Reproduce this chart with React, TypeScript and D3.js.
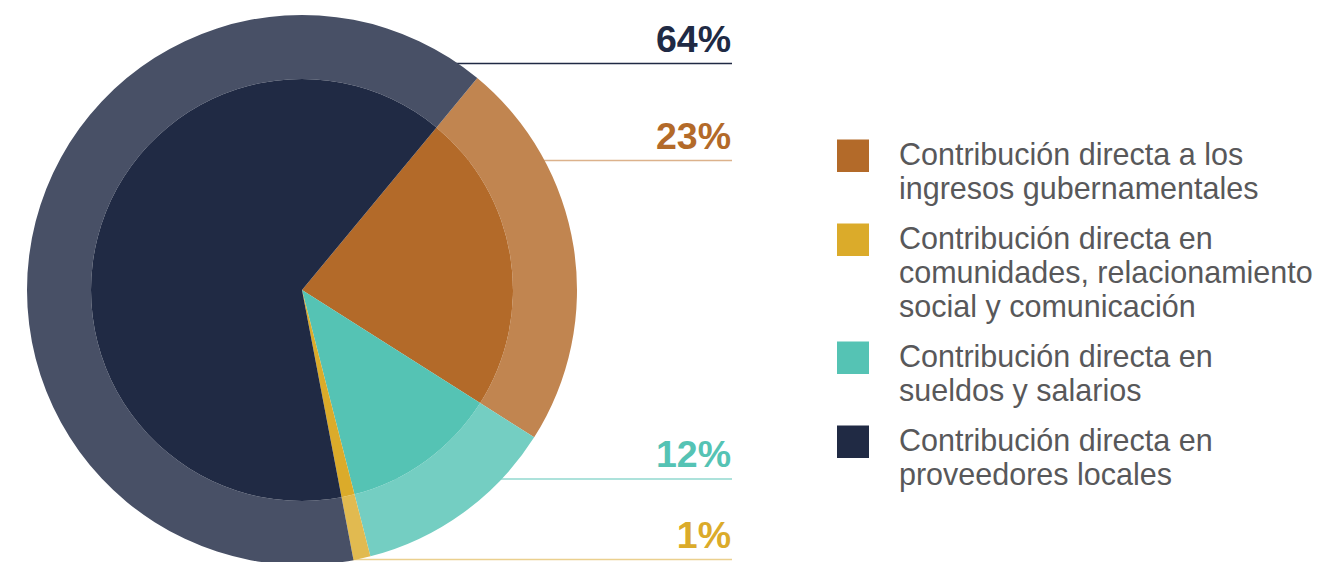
import React from "react";
import * as d3 from "d3";

const categories = [
  "Contribución directa a los ingresos gubernamentales",
  "Contribución directa en comunidades, relacionamiento social y comunicación",
  "Contribución directa en sueldos y salarios",
  "Contribución directa en proveedores locales",
];
const values = [23, 1, 12, 64];
const colors = ["#b36a29", "#dbab2a", "#55c3b4", "#202a44"];
const lineColors = ["#dcb28c", "#ebd08e", "#92d9cf", "#202a44"];
const legendLines = [
  ["Contribución directa a los", "ingresos gubernamentales"],
  ["Contribución directa en", "comunidades, relacionamiento", "social y comunicación"],
  ["Contribución directa en", "sueldos y salarios"],
  ["Contribución directa en", "proveedores locales"],
];
// drawing order around the pie (clockwise from the orange slice)
const pieOrder = [0, 2, 1, 3];
// label rows (top to bottom) and their leader-line y
const labelOrder = [3, 0, 2, 1];
const labelLineY = [63.5, 160.5, 479, 559.5];

const W = 1322;
const H = 562;
const cx = 302;
const cy = 290;
const rInner = 211;
const rOuter = 275;
const startAngle = 0.11 * 2 * Math.PI;

export default function App() {
  const pie = d3
    .pie<number>()
    .sort(null)
    .value((i) => values[i])
    .startAngle(startAngle)
    .endAngle(startAngle + 2 * Math.PI);
  const arcs = pie(pieOrder);
  const innerArc = d3.arc<d3.PieArcDatum<number>>().innerRadius(0).outerRadius(rInner);
  const outerArc = d3.arc<d3.PieArcDatum<number>>().innerRadius(rInner).outerRadius(rOuter);
  const light = (c: string) => d3.interpolateRgb("#ffffff", c)(0.82);

  const lineH = 34;
  const entryGap = 50;
  let baseline = 164.5;
  const legendItems = legendLines.map((lines, i) => {
    const first = baseline;
    baseline += (lines.length - 1) * lineH + entryGap;
    return { i, first, lines };
  });

  return (
    <svg
      width={W}
      height={H}
      style={{ position: "fixed", left: 0, top: 0, background: "#fff" }}
      fontFamily="'Liberation Sans', Arial, Helvetica, sans-serif"
    >
      {labelOrder.map((ci, k) => (
        <g key={"lab" + ci}>
          <line
            x1={cx}
            x2={732}
            y1={labelLineY[k]}
            y2={labelLineY[k]}
            stroke={lineColors[ci]}
            strokeWidth={1.5}
          />
          <text
            x={731}
            y={labelLineY[k] - 12}
            textAnchor="end"
            fontWeight="bold"
            fontSize={37.5}
            fill={colors[ci]}
          >
            {values[ci]}%
          </text>
        </g>
      ))}
      <g transform={`translate(${cx},${cy})`}>
        {arcs.map((a) => (
          <path key={"o" + a.data} d={outerArc(a) || ""} fill={light(colors[a.data])} />
        ))}
        {arcs.map((a) => (
          <path key={"i" + a.data} d={innerArc(a) || ""} fill={colors[a.data]} />
        ))}
      </g>
      {legendItems.map(({ i, first, lines }) => (
        <g key={"leg" + i}>
          <rect x={837} y={first - 25} width={32} height={32.5} fill={colors[i]} />
          <text fontSize={30.5} fill="#58585a">
            {lines.map((l, j) => (
              <tspan key={j} x={899} y={first + j * lineH}>
                {l}
              </tspan>
            ))}
          </text>
        </g>
      ))}
    </svg>
  );
}
